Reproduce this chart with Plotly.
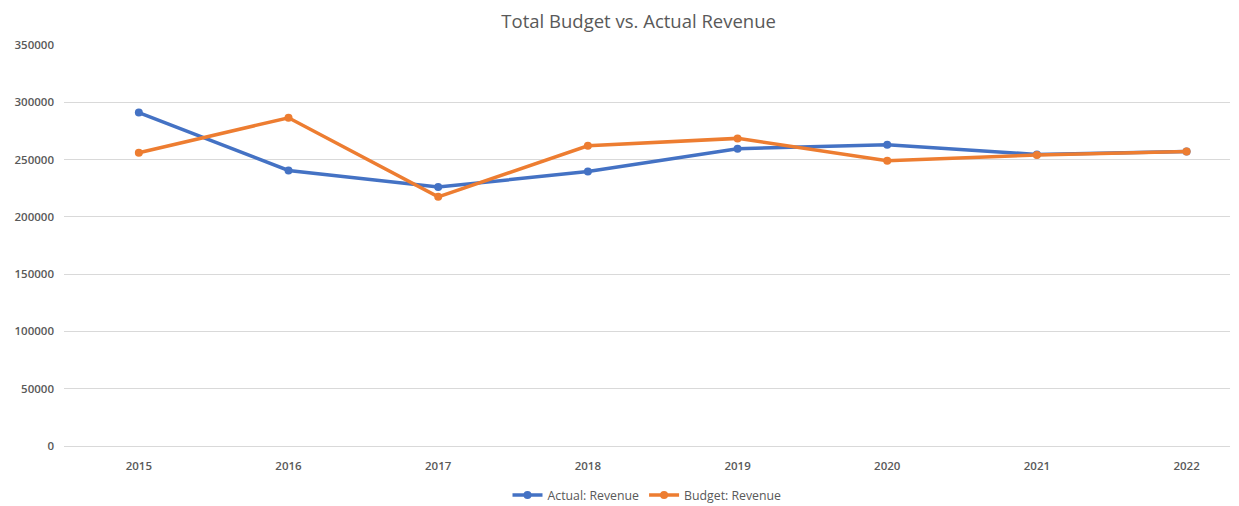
import plotly.graph_objects as go

years = ["2015", "2016", "2017", "2018", "2019", "2020", "2021", "2022"]
actual_revenue = [291000, 240500, 226000, 239500, 259500, 263000, 254500, 257000]
budget_revenue = [256000, 286500, 217500, 262000, 268500, 249000, 254000, 257000]
y_ticks = [0, 50000, 100000, 150000, 200000, 250000, 300000, 350000]

BLUE = "#4472C4"
ORANGE = "#ED7D31"
GREY = "#595959"

fig = go.Figure()
fig.add_trace(go.Scatter(
    x=years, y=actual_revenue, name="Actual: Revenue", mode="lines+markers",
    line=dict(color=BLUE, width=3.5), marker=dict(size=8, color=BLUE),
))
fig.add_trace(go.Scatter(
    x=years, y=budget_revenue, name="Budget: Revenue", mode="lines+markers",
    line=dict(color=ORANGE, width=3.5), marker=dict(size=8, color=ORANGE),
))

# the page body adds an 8px offset, so margins are shifted to compensate
fig.update_layout(
    width=1239, height=506,
    paper_bgcolor="white", plot_bgcolor="white",
    font=dict(family="Open Sans", color=GREY, size=11),
    title=dict(text="Total Budget vs. Actual Revenue", x=0.509, xanchor="center",
               yref="paper", y=1, yanchor="bottom", pad=dict(b=17),
               font=dict(size=18.5, color=GREY)),
    margin=dict(l=56, r=17, t=37, b=68, autoexpand=False),
    xaxis=dict(type="category", range=[-0.5, 7.29], showgrid=False,
               showline=False, zeroline=False, ticks="", ticklabelstandoff=11,
               automargin=False,
               tickfont=dict(size=11.5, color=GREY, weight=600)),
    yaxis=dict(range=[0, 350000], tickvals=y_ticks, tickformat="d",
               gridcolor="#D9D9D9", gridwidth=1, zeroline=True,
               zerolinecolor="#D9D9D9", zerolinewidth=1, showline=False,
               ticks="", ticklabelstandoff=9, automargin=False,
               tickfont=dict(size=11.5, color=GREY, weight=600)),
    legend=dict(orientation="h", x=0.5, xanchor="center",
                yref="container", y=0.0375, yanchor="middle",
                font=dict(size=12.3, color=GREY), itemwidth=30),
    showlegend=True,
)

fig.write_html("out.html")
